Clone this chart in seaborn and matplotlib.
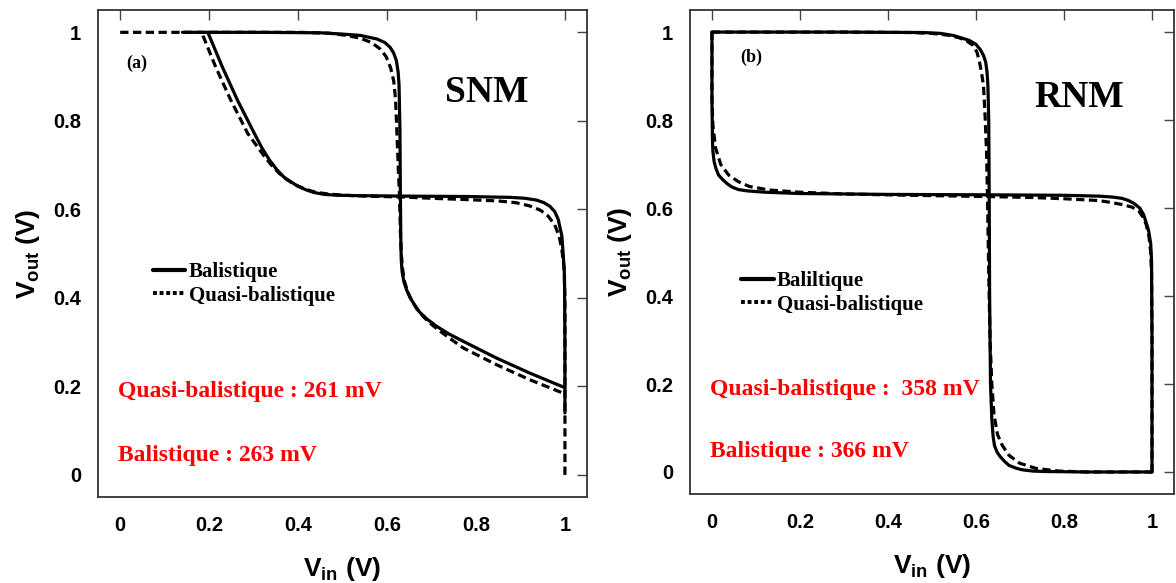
import seaborn as sns
import matplotlib.pyplot as plt
from matplotlib.lines import Line2D

# (a) SNM - inverter transfer curves (Vin, Vout)
snm_vin_bal = [0.14, 0.30, 0.45, 0.50, 0.54, 0.577, 0.595, 0.607, 0.615, 0.621, 0.625, 0.627,
               0.629, 0.630, 0.631, 0.632, 0.634, 0.638, 0.644, 0.652, 0.662, 0.673, 0.69,
               0.711, 0.74, 0.771, 0.846, 0.921, 1.0]
snm_vout_bal = [1.0, 1.0, 0.999, 0.996, 0.993, 0.985, 0.977, 0.966, 0.953, 0.936, 0.91, 0.88,
                0.78, 0.632, 0.53, 0.485, 0.458, 0.436, 0.418, 0.4, 0.384, 0.368, 0.352,
                0.336, 0.318, 0.302, 0.264, 0.23, 0.197]
snm_vin_qb = [0.0, 0.2, 0.4, 0.47, 0.509, 0.539, 0.565, 0.585, 0.598, 0.608, 0.615, 0.619,
              0.622, 0.625, 0.628, 0.63, 0.632, 0.635, 0.639, 0.646, 0.655, 0.667, 0.682,
              0.7, 0.72, 0.771, 0.846, 0.921, 1.0]
snm_vout_qb = [1.0, 1.0, 1.0, 0.998, 0.993, 0.987, 0.977, 0.962, 0.945, 0.92, 0.89, 0.85,
               0.78, 0.7, 0.632, 0.55, 0.5, 0.465, 0.438, 0.415, 0.395, 0.375, 0.357,
               0.34, 0.324, 0.287, 0.249, 0.215, 0.183]

# (b) RNM
rnm_vin_bal = [0.0, 0.3, 0.48, 0.52, 0.55, 0.585, 0.6, 0.61, 0.617, 0.622, 0.625, 0.627, 0.629,
               0.63, 0.631, 0.633, 0.636, 0.639, 0.642, 0.648, 0.655, 0.665, 0.675, 0.69, 0.705,
               0.73, 0.76, 0.85, 1.0]
rnm_vout_bal = [1.0, 1.0, 0.999, 0.997, 0.992, 0.981, 0.972, 0.96, 0.947, 0.932, 0.91, 0.88,
                0.8, 0.632, 0.4, 0.2, 0.12, 0.08, 0.06, 0.045, 0.035, 0.024, 0.015, 0.009, 0.005,
                0.002, 0.001, 0.0, 0.0]
rnm_vin_qb = [0.0, 0.3, 0.45, 0.5, 0.536, 0.562, 0.58, 0.593, 0.602, 0.608, 0.613, 0.617, 0.621,
              0.624, 0.626, 0.629, 0.632, 0.636, 0.641, 0.649, 0.66, 0.675, 0.699, 0.737, 0.79,
              0.85, 1.0]
rnm_vout_qb = [1.0, 1.0, 0.999, 0.997, 0.993, 0.987, 0.979, 0.97, 0.955, 0.932, 0.905, 0.879,
               0.803, 0.727, 0.632, 0.45, 0.3, 0.2, 0.13, 0.085, 0.06, 0.038, 0.02, 0.008,
               0.002, 0.0, 0.0]

ticks = [0, 0.2, 0.4, 0.6, 0.8, 1]
tick_labels = ['0', '0.2', '0.4', '0.6', '0.8', '1']
panel_tags = ['(a)', '(b)']
panel_names = ['SNM', 'RNM']
legend_labels = [['Balistique', 'Quasi-balistique'], ['Baliltique', 'Quasi-balistique']]
margin_texts = [['Quasi-balistique : 261 mV', 'Balistique : 263 mV'],
                ['Quasi-balistique :  358 mV', 'Balistique : 366 mV']]

sns.set_theme(style='white')
plt.rcParams['font.family'] = ['Liberation Sans', 'DejaVu Sans']
plt.rcParams['text.color'] = 'black'
plt.rcParams['axes.labelcolor'] = 'black'
plt.rcParams['mathtext.fontset'] = 'custom'
plt.rcParams['mathtext.rm'] = 'Liberation Sans:bold'
plt.rcParams['mathtext.bf'] = 'Liberation Sans:bold'
plt.rcParams['mathtext.default'] = 'bf'

SERIF = ['Liberation Serif', 'DejaVu Serif']
LW = 2.3
DASH = (0, (2.6, 1.4))


def draw_butterfly(ax, vin_bal, vout_bal, vin_qb, vout_qb):
    """Draw both transfer curves and their mirror image."""
    kw = dict(ax=ax, sort=False, estimator=None, color='black', lw=LW)
    sns.lineplot(x=vin_bal, y=vout_bal, **kw)
    sns.lineplot(x=vout_bal, y=vin_bal, **kw)
    sns.lineplot(x=vin_qb, y=vout_qb, linestyle=DASH, **kw)
    sns.lineplot(x=vout_qb, y=vin_qb, linestyle=DASH, **kw)


def style_axes(ax):
    ax.set_xlim(-0.05, 1.05)
    ax.set_ylim(-0.05, 1.05)
    ax.set_xticks(ticks)
    ax.set_xticklabels(tick_labels)
    ax.set_yticks(ticks)
    ax.set_yticklabels(tick_labels)
    ax.tick_params(direction='in', length=7, width=1, color='#444444', labelcolor='black',
                   top=True, right=True, labelsize=14.5, pad=12)
    ax.tick_params(axis='x', pad=14)
    for lab in ax.get_xticklabels() + ax.get_yticklabels():
        lab.set_fontweight('bold')
    for sp in ax.spines.values():
        sp.set_color('#333333')
        sp.set_linewidth(1.3)
    ax.set_xlabel('V$_{in}$ (V)', fontsize=19, fontweight='bold', labelpad=14)
    ax.set_ylabel('V$_{out}$ (V)', fontsize=19, fontweight='bold', labelpad=8)


fig = plt.figure(figsize=(11.76, 5.83), dpi=100)
ax_a = fig.add_axes([0.0833, 0.1475, 0.416, 0.835])
ax_b = fig.add_axes([0.5867, 0.1527, 0.4116, 0.830])

draw_butterfly(ax_a, snm_vin_bal, snm_vout_bal, snm_vin_qb, snm_vout_qb)
draw_butterfly(ax_b, rnm_vin_bal, rnm_vout_bal, rnm_vin_qb, rnm_vout_qb)

tag_pos = [(0.038, 0.93), (0.09, 0.943)]
name_pos = [(0.824, 0.864), (0.835, 0.852)]
legend_pos = [(0.074, 0.48), (0.067, 0.456)]
red_pos = [[(-0.006, 0.175), (-0.006, 0.032)], [(-0.005, 0.176), (-0.005, 0.035)]]

for i, ax in enumerate([ax_a, ax_b]):
    style_axes(ax)
    ax.text(*tag_pos[i], panel_tags[i], family=SERIF, fontweight='bold', fontsize=13,
            ha='center', va='center')
    ax.text(*name_pos[i], panel_names[i], family=SERIF, fontweight='bold', fontsize=27,
            ha='center', va='center')
    for txt, pos in zip(margin_texts[i], red_pos[i]):
        ax.text(*pos, txt, family=SERIF, fontweight='bold', fontsize=17, color='#ff0000',
                ha='left', va='baseline')
    handles = [Line2D([], [], color='black', lw=3),
               Line2D([], [], color='black', lw=2.8, linestyle=(0, (1.0, 0.7)))]
    ax.legend(handles, legend_labels[i], loc='upper left', bbox_to_anchor=legend_pos[i],
              bbox_transform=ax.transData, frameon=False, borderpad=0, borderaxespad=0,
              handlelength=1.55, handletextpad=0.15, labelspacing=0.15,
              prop={'family': SERIF, 'weight': 'bold', 'size': 15})

fig.savefig('out.png', dpi=100)
